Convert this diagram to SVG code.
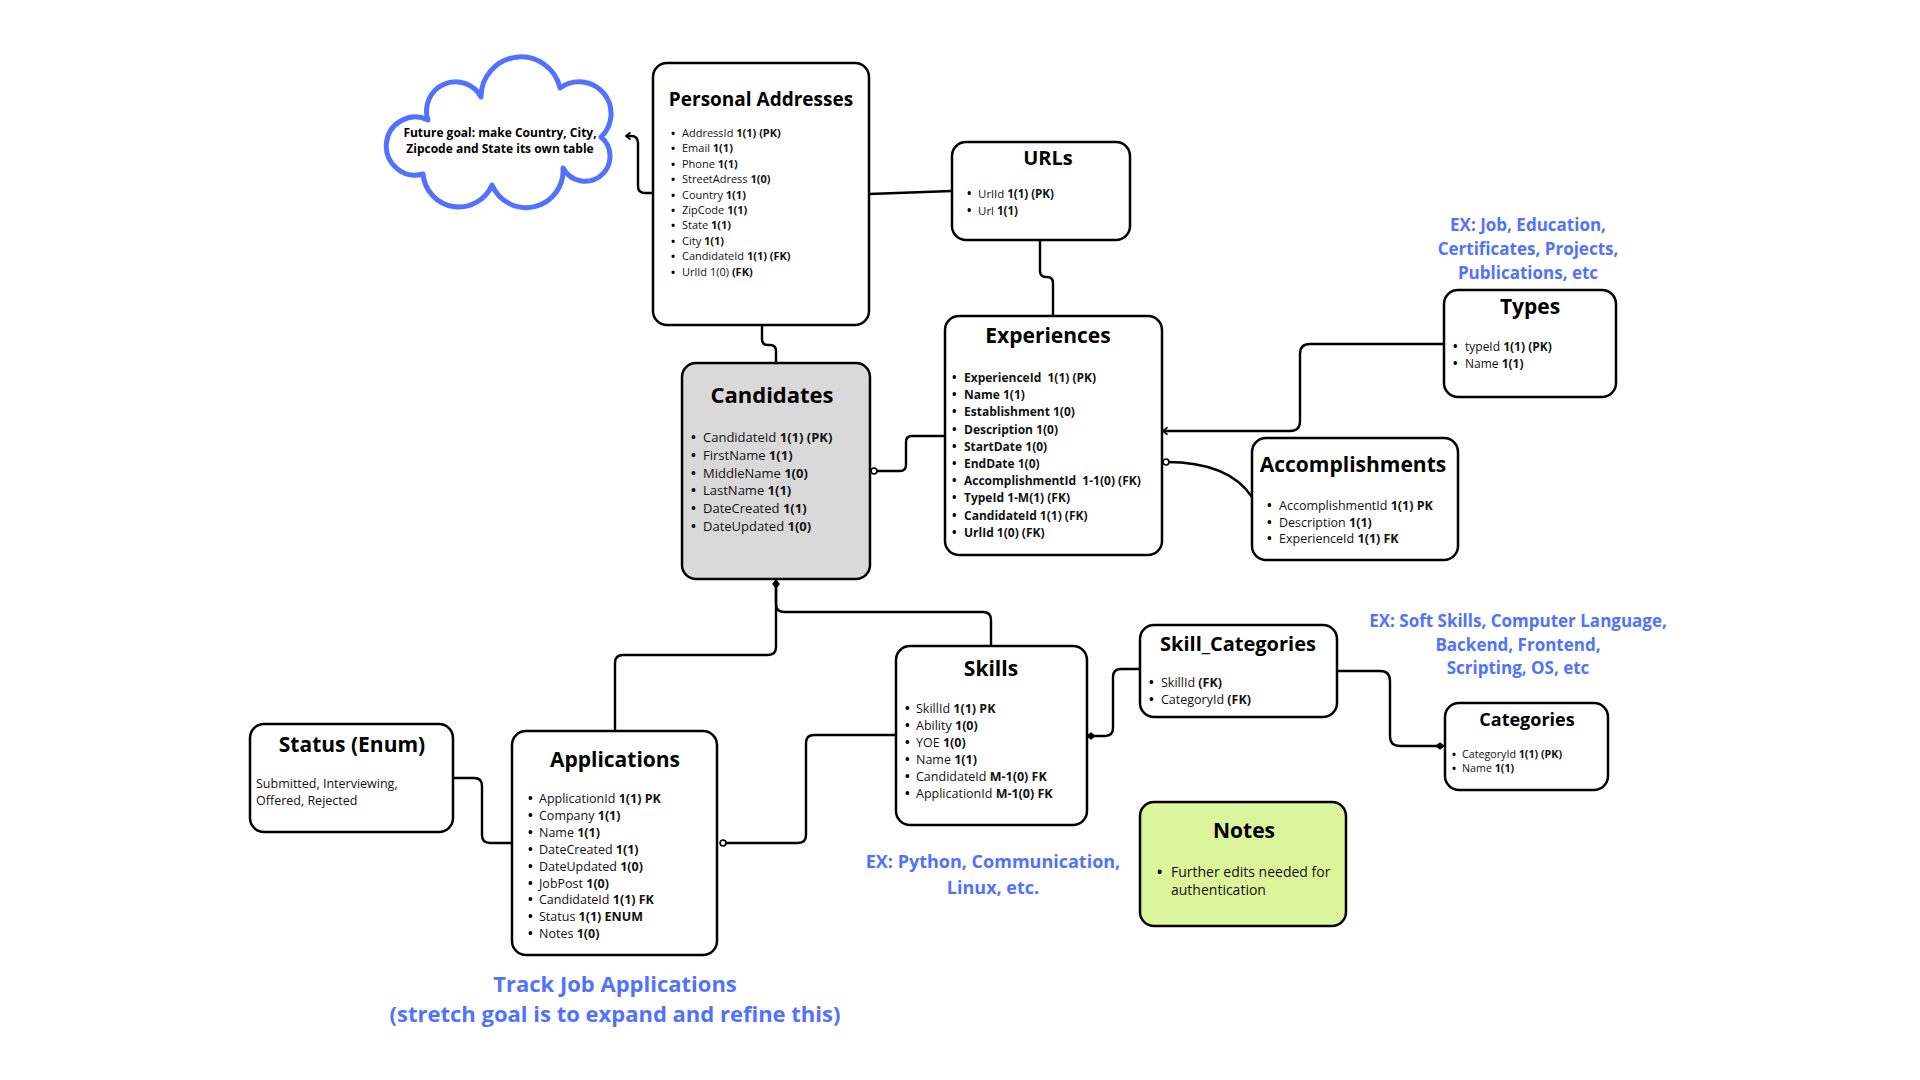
<svg xmlns="http://www.w3.org/2000/svg" width="1920" height="1080" viewBox="0 0 1920 1080">
<style>
text{font-family:"Open Sans","Noto Sans","Liberation Sans",sans-serif;fill:#111}
.box{fill:#fff;stroke:#000;stroke-width:2.5}
.t{font-weight:700;text-anchor:middle;fill:#000}
.b{font-weight:700}
.u{font-weight:700;fill:#000}
.blue{fill:#5271ff;font-weight:700;text-anchor:middle}
.ln{fill:none;stroke:#000;stroke-width:2.4}
</style>
<defs>
<marker id="arr" viewBox="0 0 10 10" refX="8" refY="5" markerWidth="9" markerHeight="9" markerUnits="userSpaceOnUse" orient="auto"><path d="M3,1 L8,5 L3,9" fill="none" stroke="#000" stroke-width="2"/></marker>
<marker id="circ" viewBox="0 0 10 10" refX="5" refY="5" markerWidth="9" markerHeight="9" markerUnits="userSpaceOnUse"><circle cx="5" cy="5" r="3.3" fill="#fff" stroke="#000" stroke-width="1.8"/></marker>
<marker id="dia" viewBox="0 0 10 10" refX="5" refY="5" markerWidth="11" markerHeight="11" markerUnits="userSpaceOnUse" orient="auto"><path d="M0.5,5 L5,1.5 L9.5,5 L5,8.5Z" fill="#000"/></marker>
</defs>
<rect width="1920" height="1080" fill="#fff"/>

<g id="connectors">
<path class="ln" d="M653,193 H645 Q638,193 638,186 V143 Q638,136 631,136 H626" marker-end="url(#arr)"/>
<path class="ln" d="M869,194 L952,191"/>
<path class="ln" d="M1040,240 V271 Q1040,277 1046,277 H1047 Q1053,277 1053,283 V316"/>
<path class="ln" d="M762,325 V339 Q762,345 768,345 H770 Q776,345 776,351 V363"/>
<path class="ln" d="M874,471 H900 Q906,471 906,465 V442 Q906,436 912,436 H945" marker-start="url(#circ)"/>
<path class="ln" d="M776,584 V604 Q776,612 784,612 H983 Q991,612 991,620 V646"/>
<path class="ln" d="M776,584 V647 Q776,655 768,655 H623 Q615,655 615,663 V731" marker-start="url(#dia)"/>
<path class="ln" d="M1444,344 H1310 Q1300,344 1300,354 V421 Q1300,431 1290,431 H1163" marker-end="url(#arr)"/>
<path class="ln" d="M1166,462 C1212,462 1238,476 1252,497" marker-start="url(#circ)"/>
<path class="ln" d="M453,778 H474 Q482,778 482,786 V835 Q482,843 490,843 H512"/>
<path class="ln" d="M723,843 H798 Q806,843 806,835 V743 Q806,735 814,735 H896" marker-start="url(#circ)"/>
<path class="ln" d="M1091,736 H1105 Q1113,736 1113,728 V677 Q1113,669 1121,669 H1140" marker-start="url(#dia)"/>
<path class="ln" d="M1337,671 H1380 Q1390,671 1390,681 V736 Q1390,746 1400,746 H1440" marker-end="url(#dia)"/>
</g>

<g id="cloud">
<path d="M423,174 A29,29 0 1 1 428,120 A29,29 0 0 1 481,97 A40,40 0 0 1 560,88 A32,32 0 0 1 601,137 A25,25 0 1 1 563,168 A37,37 0 0 1 492,185 A36,36 0 0 1 423,174 Z" fill="#fff" stroke="#5271ff" stroke-width="5" stroke-linejoin="round"/>
<text x="500" y="137" font-size="12" class="t">Future goal: make Country, City,</text>
<text x="500" y="153" font-size="12" class="t">Zipcode and State its own table</text>
</g>

<g id="personal-addresses">
<rect class="box" x="653" y="63" width="216" height="262" rx="14"/>
<text x="761" y="106" font-size="19" class="t">Personal Addresses</text>
<g font-size="11">
<text class="u" x="671" y="137">•</text><text x="682" y="137">AddressId <tspan class="b">1(1) (PK)</tspan></text>
<text class="u" x="671" y="152.4">•</text><text x="682" y="152.4">Email <tspan class="b">1(1)</tspan></text>
<text class="u" x="671" y="167.8">•</text><text x="682" y="167.8">Phone <tspan class="b">1(1)</tspan></text>
<text class="u" x="671" y="183.2">•</text><text x="682" y="183.2">StreetAdress <tspan class="b">1(0)</tspan></text>
<text class="u" x="671" y="198.6">•</text><text x="682" y="198.6">Country <tspan class="b">1(1)</tspan></text>
<text class="u" x="671" y="214">•</text><text x="682" y="214">ZipCode <tspan class="b">1(1)</tspan></text>
<text class="u" x="671" y="229.4">•</text><text x="682" y="229.4">State <tspan class="b">1(1)</tspan></text>
<text class="u" x="671" y="244.8">•</text><text x="682" y="244.8">City <tspan class="b">1(1)</tspan></text>
<text class="u" x="671" y="260.2">•</text><text x="682" y="260.2">CandidateId <tspan class="b">1(1) (FK)</tspan></text>
<text class="u" x="671" y="275.6">•</text><text x="682" y="275.6">UrlId 1(0) <tspan class="b">(FK)</tspan></text>
</g>
</g>

<g id="urls">
<rect class="box" x="952" y="142" width="178" height="98" rx="14"/>
<text x="1048" y="165" font-size="20" class="t">URLs</text>
<g font-size="11.5">
<text class="u" x="967" y="198">•</text><text x="978" y="198">UrlId <tspan class="b">1(1) (PK)</tspan></text>
<text class="u" x="967" y="215">•</text><text x="978" y="215">Url <tspan class="b">1(1)</tspan></text>
</g>
</g>

<g id="experiences">
<rect class="box" x="945" y="316" width="217" height="239" rx="14"/>
<text x="1048" y="343" font-size="21" class="t">Experiences</text>
<g font-size="12" font-weight="700">
<text class="u" x="952" y="382">•</text><text x="964" y="382" xml:space="preserve">ExperienceId  1(1) (PK)</text>
<text class="u" x="952" y="399.2">•</text><text x="964" y="399.2">Name 1(1)</text>
<text class="u" x="952" y="416.4">•</text><text x="964" y="416.4">Establishment 1(0)</text>
<text class="u" x="952" y="433.6">•</text><text x="964" y="433.6">Description 1(0)</text>
<text class="u" x="952" y="450.8">•</text><text x="964" y="450.8">StartDate 1(0)</text>
<text class="u" x="952" y="468">•</text><text x="964" y="468">EndDate 1(0)</text>
<text class="u" x="952" y="485.2">•</text><text x="964" y="485.2" xml:space="preserve">AccomplishmentId  1-1(0) (FK)</text>
<text class="u" x="952" y="502.4">•</text><text x="964" y="502.4">TypeId 1-M(1) (FK)</text>
<text class="u" x="952" y="519.6">•</text><text x="964" y="519.6">CandidateId 1(1) (FK)</text>
<text class="u" x="952" y="536.8">•</text><text x="964" y="536.8">UrlId 1(0) (FK)</text>
</g>
</g>

<g id="candidates">
<rect class="box" x="682" y="363" width="188" height="216" rx="14" style="fill:#d9d9d9"/>
<text x="772" y="403" font-size="22" class="t">Candidates</text>
<g font-size="13">
<text class="u" x="691" y="442">•</text><text x="703" y="442">CandidateId <tspan class="b">1(1) (PK)</tspan></text>
<text class="u" x="691" y="459.8">•</text><text x="703" y="459.8">FirstName <tspan class="b">1(1)</tspan></text>
<text class="u" x="691" y="477.6">•</text><text x="703" y="477.6">MiddleName <tspan class="b">1(0)</tspan></text>
<text class="u" x="691" y="495.4">•</text><text x="703" y="495.4">LastName <tspan class="b">1(1)</tspan></text>
<text class="u" x="691" y="513.2">•</text><text x="703" y="513.2">DateCreated <tspan class="b">1(1)</tspan></text>
<text class="u" x="691" y="531">•</text><text x="703" y="531">DateUpdated <tspan class="b">1(0)</tspan></text>
</g>
</g>

<g id="types">
<rect class="box" x="1444" y="290" width="172" height="107" rx="14"/>
<text x="1530" y="314" font-size="21" class="t">Types</text>
<g font-size="12">
<text class="u" x="1453" y="351">•</text><text x="1465" y="351">typeId <tspan class="b">1(1) (PK)</tspan></text>
<text class="u" x="1453" y="367.5">•</text><text x="1465" y="367.5">Name <tspan class="b">1(1)</tspan></text>
</g>
</g>
<text x="1528" y="231" font-size="17" class="blue">EX: Job, Education,</text>
<text x="1528" y="255" font-size="17" class="blue">Certificates, Projects,</text>
<text x="1528" y="279" font-size="17" class="blue">Publications, etc</text>

<g id="accomplishments">
<rect class="box" x="1252" y="438" width="206" height="122" rx="14"/>
<text x="1353" y="472" font-size="21" class="t">Accomplishments</text>
<g font-size="12.5">
<text class="u" x="1267" y="510">•</text><text x="1279" y="510">AccomplishmentId <tspan class="b">1(1) PK</tspan></text>
<text class="u" x="1267" y="526.5">•</text><text x="1279" y="526.5">Description <tspan class="b">1(1)</tspan></text>
<text class="u" x="1267" y="543">•</text><text x="1279" y="543">ExperienceId <tspan class="b">1(1) FK</tspan></text>
</g>
</g>

<g id="status">
<rect class="box" x="250" y="724" width="203" height="108" rx="14"/>
<text x="352" y="752" font-size="21" class="t">Status (Enum)</text>
<text x="256" y="788" font-size="12.5">Submitted, Interviewing,</text>
<text x="256" y="805" font-size="12.5">Offered, Rejected</text>
</g>

<g id="applications">
<rect class="box" x="512" y="731" width="205" height="224" rx="14"/>
<text x="615" y="767" font-size="21" class="t">Applications</text>
<g font-size="12.5">
<text class="u" x="528" y="803">•</text><text x="539" y="803">ApplicationId <tspan class="b">1(1) PK</tspan></text>
<text class="u" x="528" y="819.9">•</text><text x="539" y="819.9">Company <tspan class="b">1(1)</tspan></text>
<text class="u" x="528" y="836.8">•</text><text x="539" y="836.8">Name <tspan class="b">1(1)</tspan></text>
<text class="u" x="528" y="853.7">•</text><text x="539" y="853.7">DateCreated <tspan class="b">1(1)</tspan></text>
<text class="u" x="528" y="870.6">•</text><text x="539" y="870.6">DateUpdated <tspan class="b">1(0)</tspan></text>
<text class="u" x="528" y="887.5">•</text><text x="539" y="887.5">JobPost <tspan class="b">1(0)</tspan></text>
<text class="u" x="528" y="904.4">•</text><text x="539" y="904.4">CandidateId <tspan class="b">1(1) FK</tspan></text>
<text class="u" x="528" y="921.3">•</text><text x="539" y="921.3">Status <tspan class="b">1(1) ENUM</tspan></text>
<text class="u" x="528" y="938.2">•</text><text x="539" y="938.2">Notes <tspan class="b">1(0)</tspan></text>
</g>
</g>
<text x="615" y="992" font-size="22" class="blue">Track Job Applications</text>
<text x="615" y="1022" font-size="22" class="blue">(stretch goal is to expand and refine this)</text>

<g id="skills">
<rect class="box" x="896" y="646" width="191" height="179" rx="14"/>
<text x="991" y="676" font-size="21" class="t">Skills</text>
<g font-size="12.5">
<text class="u" x="905" y="713">•</text><text x="916" y="713">SkillId <tspan class="b">1(1) PK</tspan></text>
<text class="u" x="905" y="730">•</text><text x="916" y="730">Ability <tspan class="b">1(0)</tspan></text>
<text class="u" x="905" y="747">•</text><text x="916" y="747">YOE <tspan class="b">1(0)</tspan></text>
<text class="u" x="905" y="764">•</text><text x="916" y="764">Name <tspan class="b">1(1)</tspan></text>
<text class="u" x="905" y="781">•</text><text x="916" y="781">CandidateId <tspan class="b">M-1(0) FK</tspan></text>
<text class="u" x="905" y="798">•</text><text x="916" y="798">ApplicationId <tspan class="b">M-1(0) FK</tspan></text>
</g>
</g>
<text x="993" y="868" font-size="18" class="blue">EX: Python, Communication,</text>
<text x="993" y="894" font-size="18" class="blue">Linux, etc.</text>

<g id="skill-categories">
<rect class="box" x="1140" y="625" width="197" height="92" rx="14"/>
<text x="1238" y="651" font-size="20" class="t">Skill_Categories</text>
<g font-size="12.5">
<text class="u" x="1149" y="687">•</text><text x="1161" y="687">SkillId <tspan class="b">(FK)</tspan></text>
<text class="u" x="1149" y="704">•</text><text x="1161" y="704">CategoryId <tspan class="b">(FK)</tspan></text>
</g>
</g>
<text x="1518" y="627" font-size="17" class="blue">EX: Soft Skills, Computer Language,</text>
<text x="1518" y="651" font-size="17" class="blue">Backend, Frontend,</text>
<text x="1518" y="674" font-size="17" class="blue">Scripting, OS, etc</text>

<g id="categories">
<rect class="box" x="1445" y="703" width="163" height="87" rx="14"/>
<text x="1527" y="726" font-size="18" class="t">Categories</text>
<g font-size="10.7">
<text class="u" x="1452" y="758">•</text><text x="1462" y="758">CategoryId <tspan class="b">1(1) (PK)</tspan></text>
<text class="u" x="1452" y="772">•</text><text x="1462" y="772">Name <tspan class="b">1(1)</tspan></text>
</g>
</g>

<g id="notes">
<rect class="box" x="1140" y="802" width="206" height="124" rx="14" style="fill:#dcf59b"/>
<text x="1244" y="838" font-size="21" class="t">Notes</text>
<g font-size="14">
<text class="u" x="1157" y="877">•</text><text x="1171" y="877">Further edits needed for</text>
<text x="1171" y="895">authentication</text>
</g>
</g>
</svg>
